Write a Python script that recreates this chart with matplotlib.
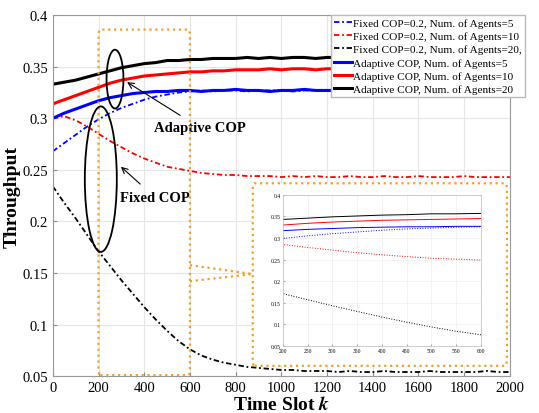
import numpy as np
import matplotlib
matplotlib.use('Agg')
import matplotlib.pyplot as plt
from matplotlib.patches import Ellipse, FancyBboxPatch

plt.rcParams['font.family'] = ['Liberation Serif', 'DejaVu Serif']
plt.rcParams['mathtext.fontset'] = 'stix'

# time slots (every 50)
slots = list(range(0, 2001, 50))

fixed_5 = [0.268, 0.276, 0.284, 0.292, 0.299, 0.305, 0.310, 0.314, 0.318, 0.321,
           0.323, 0.325, 0.326, 0.327, 0.326, 0.327, 0.327, 0.326, 0.327, 0.327,
           0.327, 0.326, 0.327, 0.327, 0.327, 0.326, 0.327, 0.327, 0.327, 0.326,
           0.327, 0.327, 0.327, 0.326, 0.327, 0.327, 0.327, 0.326, 0.327, 0.327, 0.327]
fixed_10 = [0.300, 0.302, 0.298, 0.292, 0.285, 0.278, 0.272, 0.266, 0.261, 0.257,
            0.253, 0.251, 0.249, 0.247, 0.246, 0.245, 0.245, 0.244, 0.244, 0.244,
            0.243, 0.244, 0.243, 0.244, 0.243, 0.243, 0.244, 0.243, 0.243, 0.244,
            0.243, 0.243, 0.244, 0.243, 0.243, 0.243, 0.244, 0.243, 0.243, 0.243, 0.243]
fixed_20 = [0.234, 0.218, 0.203, 0.187, 0.171, 0.157, 0.143, 0.130, 0.117, 0.105,
            0.094, 0.084, 0.076, 0.070, 0.066, 0.063, 0.061, 0.059, 0.058, 0.057,
            0.056, 0.056, 0.055, 0.055, 0.055, 0.054, 0.055, 0.054, 0.054, 0.055,
            0.054, 0.054, 0.054, 0.055, 0.054, 0.054, 0.054, 0.054, 0.055, 0.054, 0.054]
adapt_5 = [0.300, 0.305, 0.309, 0.313, 0.317, 0.320, 0.322, 0.324, 0.325, 0.326,
           0.326, 0.327, 0.327, 0.326, 0.327, 0.327, 0.328, 0.327, 0.327, 0.326,
           0.327, 0.327, 0.328, 0.327, 0.327, 0.327, 0.326, 0.327, 0.328, 0.327,
           0.327, 0.327, 0.326, 0.327, 0.327, 0.328, 0.327, 0.327, 0.327, 0.326, 0.327]
adapt_10 = [0.314, 0.318, 0.322, 0.326, 0.330, 0.334, 0.337, 0.339, 0.341, 0.342,
            0.343, 0.344, 0.345, 0.345, 0.346, 0.346, 0.347, 0.347, 0.347, 0.348,
            0.347, 0.348, 0.348, 0.347, 0.348, 0.348, 0.348, 0.347, 0.348, 0.348,
            0.348, 0.348, 0.347, 0.348, 0.348, 0.348, 0.348, 0.347, 0.348, 0.348, 0.348]
adapt_20 = [0.333, 0.335, 0.337, 0.340, 0.343, 0.346, 0.349, 0.351, 0.353, 0.354,
            0.356, 0.356, 0.357, 0.357, 0.358, 0.358, 0.358, 0.359, 0.358, 0.359,
            0.358, 0.359, 0.359, 0.358, 0.359, 0.359, 0.358, 0.359, 0.359, 0.359,
            0.358, 0.359, 0.359, 0.358, 0.359, 0.359, 0.359, 0.358, 0.359, 0.359, 0.359]

series = [
    (fixed_5, 'blue', '-.', 'Fixed COP=0.2, Num. of Agents=5'),
    (fixed_10, 'red', '-.', 'Fixed COP=0.2, Num. of Agents=10'),
    (fixed_20, 'black', '-.', 'Fixed COP=0.2, Num. of Agents=20,'),
    (adapt_5, 'blue', '-', 'Adaptive COP, Num. of Agents=5'),
    (adapt_10, 'red', '-', 'Adaptive COP, Num. of Agents=10'),
    (adapt_20, 'black', '-', 'Adaptive COP, Num. of Agents=20'),
]

orange = '#f0a030'

fig = plt.figure(figsize=(5.39, 4.14), dpi=100)
ax = fig.add_axes([0.098, 0.089, 0.848, 0.872])

for vals, c, ls, lab in series:
    if ls == '-.':
        ax.plot(slots, vals, color=c, linewidth=1.3, dashes=(3, 1.5, 1, 1.5), label=lab)
    else:
        ax.plot(slots, vals, color=c, linewidth=2.2, label=lab)

ax.set_xlim(0, 2000)
ax.set_ylim(0.05, 0.4)
ax.set_xticks(range(0, 2001, 200))
ax.set_yticks(np.arange(0.05, 0.401, 0.05))
ax.set_yticklabels(['0.05', '0.1', '0.15', '0.2', '0.25', '0.3', '0.35', '0.4'])
ax.tick_params(labelsize=10.5, direction='in', length=3, color='#888888')
ax.grid(True, color='#e6e6e6', linewidth=0.8)
for s in ax.spines.values():
    s.set_color('#999999')
ax.set_xlabel(r'Time Slot $\boldsymbol{k}$', fontsize=14, fontweight='bold', labelpad=1)
ax.set_ylabel('Throughput', fontsize=14, fontweight='bold', labelpad=1)

leg = ax.legend(loc='upper right', bbox_to_anchor=(1.033, 1.0), borderaxespad=0,
                fontsize=8.1, handlelength=1.6, handletextpad=0.1, labelspacing=0.3,
                borderpad=0.25, fancybox=False, framealpha=1, edgecolor='#bbbbbb')

# zoom rectangle and inset frame
ax.add_patch(FancyBboxPatch((200, 0.051), 400, 0.335, boxstyle='round,pad=0,rounding_size=8',
                            fill=False, edgecolor=orange, linestyle=':', linewidth=1.6,
                            mutation_aspect=0.0008, zorder=4))
ax.add_patch(FancyBboxPatch((875, 0.06), 1112, 0.177, boxstyle='round,pad=0,rounding_size=8',
                            fill=True, facecolor='white', edgecolor=orange, linestyle=':',
                            linewidth=1.6, mutation_aspect=0.0008, zorder=5))
ax.plot([600, 875], [0.1576, 0.149], color=orange, linestyle=':', linewidth=1.6, zorder=4)
ax.plot([600, 875], [0.142, 0.149], color=orange, linestyle=':', linewidth=1.6, zorder=4)

# ellipses and annotations
ax.add_patch(Ellipse((272, 0.338), 74, 0.057, angle=0, fill=False, color='black', lw=1.3, zorder=6))
ax.add_patch(Ellipse((210, 0.241), 140, 0.141, angle=0, fill=False, color='black', lw=1.3, zorder=6))
ax.annotate('Adaptive COP', xy=(325, 0.335), xytext=(643, 0.291), ha='center', va='center',
            fontsize=10.5, fontweight='bold',
            arrowprops=dict(arrowstyle='->', color='black', lw=0.8, shrinkA=4, shrinkB=0))
ax.annotate('Fixed COP', xy=(298, 0.253), xytext=(446, 0.2236), ha='center', va='center',
            fontsize=10.5, fontweight='bold',
            arrowprops=dict(arrowstyle='->', color='black', lw=0.8, shrinkA=4, shrinkB=0))

# inset
ins = fig.add_axes([0.525, 0.162, 0.367, 0.365], zorder=10)
for vals, c, ls, lab in series:
    ins.plot(slots, vals, color=c, linestyle=':' if ls == '-.' else '-', linewidth=0.7)
ins.set_xlim(200, 600)
ins.set_ylim(0.05, 0.4)
ins.set_xticks(range(200, 601, 50))
ins.set_yticks(np.arange(0.05, 0.401, 0.05))
ins.set_yticklabels(['0.05', '0.1', '0.15', '0.2', '0.25', '0.3', '0.35', '0.4'])
ins.tick_params(labelsize=4, direction='in', length=1.5, pad=1.5, color='#aaaaaa')
ins.grid(True, color='#eeeeee', linewidth=0.5)
for s in ins.spines.values():
    s.set_color('#bbbbbb')
    s.set_linewidth(0.5)

fig.savefig('out.png', dpi=100)
